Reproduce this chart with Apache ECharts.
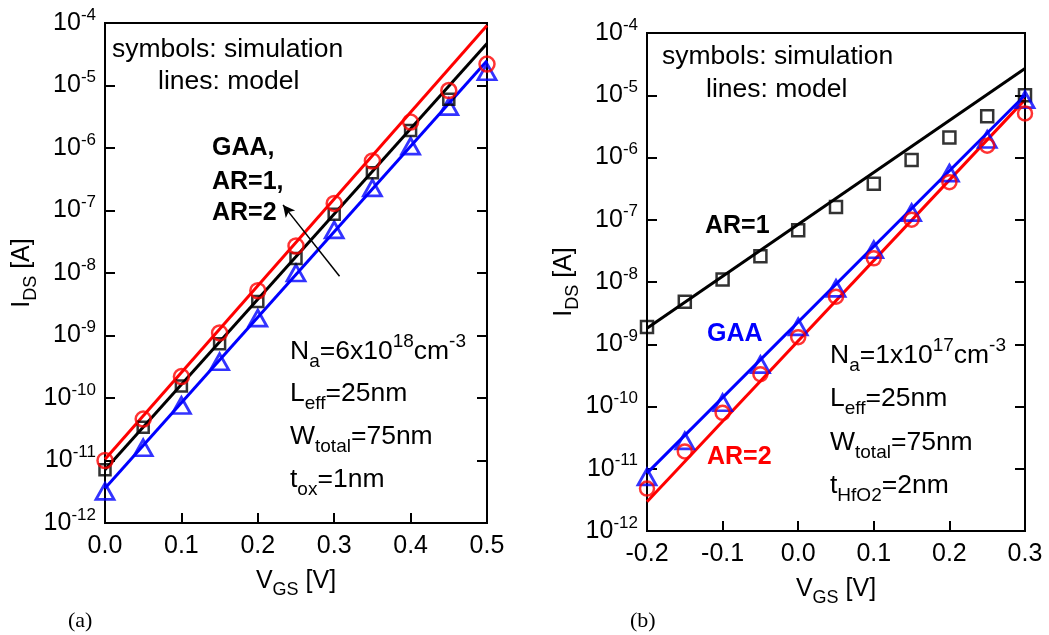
<!DOCTYPE html>
<html>
<head>
<meta charset="utf-8">
<script src="https://cdn.jsdelivr.net/npm/echarts@6/dist/echarts.min.js"></script>
<style>
html,body{margin:0;padding:0;background:#fff;}
#c{width:1049px;height:635px;}
</style>
</head>
<body>
<div id="c"></div>
<script>
// ---------- data ----------
// panel (a)
var vgsA = [0, 0.05, 0.10, 0.15, 0.20, 0.25, 0.30, 0.35, 0.40, 0.45, 0.50];
var simA_GAA = [3.2e-12, 1.6e-11, 7.6e-11, 3.8e-10, 1.9e-9, 1.0e-8, 4.9e-8, 2.3e-7, 1.07e-6, 4.6e-6, 1.66e-5];
var simA_AR1 = [7.1e-12, 3.4e-11, 1.55e-10, 7.4e-10, 3.5e-9, 1.7e-8, 8.7e-8, 4.0e-7, 1.9e-6, 6.0e-6, null];
var simA_AR2 = [1.0e-11, 4.6e-11, 2.2e-10, 1.1e-9, 5.2e-9, 2.7e-8, 1.3e-7, 6.2e-7, 2.6e-6, 8.3e-6, 2.2e-5];
var modelA_x = [0, 0.5];
var modelA_GAA = [3.6e-12, 2.5e-5];
var modelA_AR1 = [7.1e-12, 4.7e-5];
var modelA_AR2 = [1.05e-11, 9.1e-5];
var arrowA = [[0.307, 8.9e-9], [0.233, 1.23e-7]];
// panel (b)
var vgsB = [-0.20, -0.15, -0.10, -0.05, 0, 0.05, 0.10, 0.15, 0.20, 0.25, 0.30];
var simB_AR1 = [1.9e-9, 4.8e-9, 1.1e-8, 2.6e-8, 6.8e-8, 1.6e-7, 3.8e-7, 9.1e-7, 2.1e-6, 4.6e-6, 1.0e-5];
var simB_GAA = [7.4e-12, 2.8e-11, 1.15e-10, 4.7e-10, 1.9e-9, 7.9e-9, 3.3e-8, 1.3e-7, 5.6e-7, 1.95e-6, 8.5e-6];
var simB_AR2 = [4.8e-12, 1.9e-11, 7.9e-11, 3.3e-10, 1.3e-9, 5.8e-9, 2.4e-8, 1.0e-7, 4.0e-7, 1.55e-6, 5.1e-6];
var modelB_x = [-0.2, 0.3];
var modelB_AR1 = [1.8e-9, 2.7e-5];
var modelB_GAA = [8.5e-12, 1.0e-5];
var modelB_AR2 = [2.95e-12, 8.5e-6];
// axes
var xTicksA = [0, 0.5, 0.1];
var xTicksB = [-0.2, 0.3, 0.1];
var yRange = [1e-12, 1e-4];

// ---------- helpers ----------
function pairs(xs, ys){
  var out = [];
  xs.forEach(function(x,i){ if (ys[i] != null) out.push([x, ys[i]]); });
  return out;
}
var FONT = 'Liberation Sans, Arial, sans-serif';
var RED = '#ff0000', BLUE = '#0000ff', BLACK = '#000000';

function yLabelFmt(v){
  var e = Math.round(Math.log10(v));
  return '{b|10}{e|' + e + '}';
}
function xLabelFmt(v){
  if (Math.abs(v) < 1e-9) v = 0;
  return v.toFixed(1);
}
var tickRich = {
  b: {fontSize: 25, fontFamily: FONT, color: '#000'},
  e: {fontSize: 17, fontFamily: FONT, color: '#000', padding: [0, 0, 16, 0]}
};
var nameRich = {
  m: {fontSize: 25, fontFamily: FONT, color: '#000'},
  s: {fontSize: 18, fontFamily: FONT, color: '#000', padding: [18, 0, 0, 0]}
};

function xAxisDef(grid, t){
  return {
    type: 'value', gridIndex: grid, min: t[0], max: t[1], interval: t[2],
    name: '{m|V}{s|GS}{m| [V]}', nameLocation: 'middle', nameGap: 40,
    nameTextStyle: {rich: nameRich},
    axisLine: {show: true, onZero: false, lineStyle: {color: '#000', width: 2}},
    axisTick: {show: true, inside: true, length: 10, lineStyle: {color: '#000', width: 2}},
    axisLabel: {formatter: xLabelFmt, fontSize: 25, fontFamily: FONT, color: '#000', margin: 11, showMaxLabel: true, showMinLabel: true},
    splitLine: {show: false}
  };
}
function yAxisDef(grid){
  return {
    type: 'log', logBase: 10, gridIndex: grid, min: yRange[0], max: yRange[1], interval: 1,
    name: '{m|I}{s|DS}{m| [A]}', nameLocation: 'middle', nameGap: 62,
    nameTextStyle: {rich: nameRich},
    axisLine: {show: true, onZero: false, lineStyle: {color: '#000', width: 2}},
    axisTick: {show: true, inside: true, length: 10, lineStyle: {color: '#000', width: 2}},
    axisLabel: {formatter: yLabelFmt, rich: tickRich, margin: 9},
    splitLine: {show: false}, minorTick: {show: false}
  };
}
function yAxisMirror(grid){
  return {
    type: 'log', logBase: 10, gridIndex: grid, min: yRange[0], max: yRange[1], interval: 1,
    position: 'right',
    axisLine: {show: true, onZero: false, lineStyle: {color: '#000', width: 2}},
    axisTick: {show: true, inside: true, length: 10, lineStyle: {color: '#000', width: 2}},
    axisLabel: {show: false}, splitLine: {show: false}
  };
}
function modelLine(xi, yi, xs, ys, color){
  return {type: 'line', xAxisIndex: xi, yAxisIndex: yi, data: pairs(xs, ys), showSymbol: false, symbol: 'none',
    lineStyle: {color: color, width: 3}, z: 2, silent: true, animation: false};
}
function simPoints(xi, yi, xs, ys, color, sym, size, bw){
  return {type: 'scatter', xAxisIndex: xi, yAxisIndex: yi, data: pairs(xs, ys), symbol: sym, symbolSize: size,
    itemStyle: {color: 'rgba(0,0,0,0)', borderColor: color, borderWidth: bw || 2.5}, z: 3, silent: true, animation: false};
}
var tri = 'path://M0,-10L8.66,5L-8.66,5Z';

function richSet(color, bold, size){
  var w = bold ? 'bold' : 'normal';
  return {
    m: {fontSize: size, fontFamily: FONT, fontWeight: w, fill: color, color: color},
    s: {fontSize: 19, fontFamily: FONT, fill: color, color: color, padding: [20, 0, 0, 0]},
    p: {fontSize: 19, fontFamily: FONT, fill: color, color: color, padding: [0, 0, 20, 0]}
  };
}
var R0 = richSet('#000', false, 26.5);
var RB = richSet('#000', true, 25);
var RBb = richSet(BLUE, true, 25);
var RBr = richSet(RED, true, 25);

function gtext(x, yc, text, rich, color){
  return {type: 'text', x: x, y: yc, z: 10, silent: true,
    style: {text: text, rich: rich, fill: color || '#000', verticalAlign: 'middle', textVerticalAlign: 'middle', align: 'left'}};
}

var option = {
  backgroundColor: '#fff',
  animation: false,
  grid: [
    {left: 105, top: 23, width: 382, height: 500, show: true, borderColor: '#000', borderWidth: 2, backgroundColor: 'transparent'},
    {left: 647, top: 33, width: 378, height: 498, show: true, borderColor: '#000', borderWidth: 2, backgroundColor: 'transparent'}
  ],
  xAxis: [xAxisDef(0, xTicksA), xAxisDef(1, xTicksB)],
  yAxis: [yAxisDef(0), yAxisMirror(0), yAxisDef(1), yAxisMirror(1)],
  series: [
    modelLine(0, 0, modelA_x, modelA_GAA, BLUE),
    modelLine(0, 0, modelA_x, modelA_AR1, BLACK),
    modelLine(0, 0, modelA_x, modelA_AR2, RED),
    simPoints(0, 0, vgsA, simA_GAA, BLUE, tri, [18, 16], 2.8),
    simPoints(0, 0, vgsA, simA_AR1, BLACK, 'rect', 11),
    simPoints(0, 0, vgsA, simA_AR2, RED, 'circle', 15),
    {type: 'line', xAxisIndex: 0, yAxisIndex: 0, data: [], silent: true,
      markLine: {silent: true, symbol: ['none', 'arrow'], symbolSize: [9, 12], label: {show: false},
        lineStyle: {color: '#000', width: 1.5, type: 'solid'},
        data: [[{coord: arrowA[0]}, {coord: arrowA[1]}]]}},
    modelLine(1, 2, modelB_x, modelB_AR1, BLACK),
    modelLine(1, 2, modelB_x, modelB_GAA, BLUE),
    modelLine(1, 2, modelB_x, modelB_AR2, RED),
    simPoints(1, 2, vgsB, simB_AR1, BLACK, 'rect', 12),
    simPoints(1, 2, vgsB, simB_GAA, BLUE, tri, [18, 16], 2.8),
    simPoints(1, 2, vgsB, simB_AR2, RED, 'circle', 14)
  ],
  graphic: [
    gtext(112, 50, '{m|symbols: simulation}', R0),
    gtext(158, 82, '{m|lines: model}', R0),
    gtext(212, 148, '{m|GAA,}', RB),
    gtext(212, 182, '{m|AR=1,}', RB),
    gtext(212, 213, '{m|AR=2}', RB),
    gtext(290, 352, '{m|N}{s|a}{m|=6x10}{p|18}{m|cm}{p|-3}', R0),
    gtext(290, 394, '{m|L}{s|eff}{m|=25nm}', R0),
    gtext(290, 437, '{m|W}{s|total}{m|=75nm}', R0),
    gtext(290, 480, '{m|t}{s|ox}{m|=1nm}', R0),
    gtext(662, 57, '{m|symbols: simulation}', R0),
    gtext(706, 90, '{m|lines: model}', R0),
    gtext(705, 226, '{m|AR=1}', RB),
    gtext(707, 334, '{m|GAA}', RBb, BLUE),
    gtext(707, 457, '{m|AR=2}', RBr, RED),
    gtext(830, 356, '{m|N}{s|a}{m|=1x10}{p|17}{m|cm}{p|-3}', R0),
    gtext(830, 399, '{m|L}{s|eff}{m|=25nm}', R0),
    gtext(830, 443, '{m|W}{s|total}{m|=75nm}', R0),
    gtext(830, 486, '{m|t}{s|HfO2}{m|=2nm}', R0),
    {type: 'text', x: 68, y: 621, style: {text: '(a)', font: '22px "Liberation Serif", "Times New Roman", serif', fill: '#000', verticalAlign: 'middle', textVerticalAlign: 'middle'}},
    {type: 'text', x: 630, y: 621, style: {text: '(b)', font: '22px "Liberation Serif", "Times New Roman", serif', fill: '#000', verticalAlign: 'middle', textVerticalAlign: 'middle'}}
  ]
};
var chart = echarts.init(document.getElementById('c'), null, {renderer: 'canvas'});
chart.setOption(option);
</script>
</body>
</html>
